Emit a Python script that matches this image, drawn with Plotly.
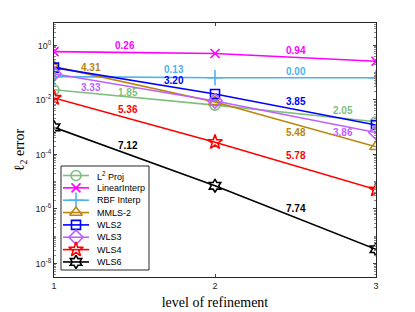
import plotly.graph_objects as go

levels = [1, 2, 3]

series_names = ["L<sup>2</sup> Proj", "LinearInterp", "RBF Interp", "MMLS-2",
                "WLS2", "WLS3", "WLS4", "WLS6"]
l2_proj = [2.34e-2, 6.4e-3, 1.58e-3]
linear_interp = [0.59, 0.50, 0.26]
rbf_interp = [0.071, 0.065, 0.065]
mmls2 = [0.166, 8.4e-3, 1.9e-4]
wls2 = [0.152, 0.0165, 1.2e-3]
wls3 = [0.091, 9.1e-3, 6.3e-4]
wls4 = [0.0117, 2.8e-4, 5.1e-6]
wls6 = [9.8e-4, 7.0e-6, 3.3e-8]

# convergence-rate labels (text) per series, for segments 1-2 and 2-3
rate_labels = {
    "L2": ["1.85", "2.05"],
    "Lin": ["0.26", "0.94"],
    "RBF": ["0.13", "0.00"],
    "MMLS": ["4.31", "5.48"],
    "WLS2": ["3.20", "3.85"],
    "WLS3": ["3.33", "3.86"],
    "WLS4": ["5.36", "5.78"],
    "WLS6": ["7.12", "7.74"],
}

y_tickvals = [1e0, 1e-2, 1e-4, 1e-6, 1e-8]
y_ticktext = ["10<sup>0</sup>", "10<sup>-2</sup>", "10<sup>-4</sup>",
              "10<sup>-6</sup>", "10<sup>-8</sup>"]
x_tickvals = [1, 2, 3]

# styles
styles = [
    ("L2", l2_proj, "#7fbf7f", "circle-open", 10),
    ("Lin", linear_interp, "#ff00ff", "x-thin-open", 9),
    ("RBF", rbf_interp, "#4db3ee", "cross-thin-open", 11),
    ("MMLS", mmls2, "#b8860b", "triangle-up-open", 11),
    ("WLS2", wls2, "#0000ff", "square-open", 9),
    ("WLS3", wls3, "#bf5fff", "diamond-open", 11),
    ("WLS4", wls4, "#ff0000", "star-open", 11),
    ("WLS6", wls6, "#000000", "hexagram-open", 10),
]

# label placement (x in data, y in log10 data units)
label_pos = {
    "L2": [(1.457, -1.74), (2.798, -2.40)],
    "Lin": [(1.444, -0.02), (2.5, -0.20)],
    "RBF": [(1.748, -0.90), (2.5, -0.97)],
    "MMLS": [(1.227, -0.82), (2.5, -3.21)],
    "WLS2": [(1.748, -1.30), (2.5, -2.07)],
    "WLS3": [(1.227, -1.56), (2.798, -3.21)],
    "WLS4": [(1.457, -2.36), (2.5, -4.05)],
    "WLS6": [(1.457, -3.68), (2.5, -5.99)],
}

# legend geometry in page pixels (overlay axis uses pixel coordinates)
leg_box = (61, 166, 149, 270)
leg_row0, leg_dy = 175.5, 12.35
leg_line_x = (63, 89)
leg_text_x = 95

fig = go.Figure()
annotations = []
shapes = []
for (key, vals, color, sym, msize), name in zip(styles, series_names):
    fig.add_trace(go.Scatter(
        x=levels, y=vals, mode="lines+markers", name=name, showlegend=False,
        line=dict(color=color, width=1.6),
        marker=dict(symbol=sym, size=msize,
                    color=color, line=dict(color=color, width=1.6)),
    ))
    for txt, (ax, ay) in zip(rate_labels[key], label_pos[key]):
        annotations.append(dict(
            x=ax, y=ay, xref="x", yref="y", text="<b>%s</b>" % txt,
            showarrow=False, font=dict(family="Liberation Sans", size=10, color=color),
        ))

# manual legend (compact rows as in the reference)
shapes.append(dict(type="rect", xref="x2", yref="y2",
                   x0=leg_box[0], x1=leg_box[2], y0=leg_box[1], y1=leg_box[3],
                   line=dict(color="#262626", width=1), fillcolor="white",
                   layer="below"))
for i, ((key, vals, color, sym, msize), name) in enumerate(zip(styles, series_names)):
    ry = leg_row0 + i * leg_dy
    fig.add_trace(go.Scatter(
        x=[leg_line_x[0], (leg_line_x[0] + leg_line_x[1]) / 2, leg_line_x[1]],
        y=[ry, ry, ry], xaxis="x2", yaxis="y2", mode="lines",
        line=dict(color=color, width=1.6), showlegend=False, hoverinfo="skip",
    ))
    fig.add_trace(go.Scatter(
        x=[(leg_line_x[0] + leg_line_x[1]) / 2], y=[ry], xaxis="x2", yaxis="y2",
        mode="markers", showlegend=False, hoverinfo="skip",
        marker=dict(symbol=sym, size=msize, color=color,
                    line=dict(color=color, width=1.6)),
    ))
    annotations.append(dict(
        x=leg_text_x, y=ry, xref="x2", yref="y2", text=name, showarrow=False,
        xanchor="left", yanchor="middle",
        font=dict(family="Liberation Sans", size=9, color="#000000"),
    ))

axis_col = "#262626"
fig.update_layout(
    width=407, height=304,
    margin=dict(l=46, r=39, t=15, b=35, autoexpand=False),
    paper_bgcolor="white", plot_bgcolor="white",
    font=dict(family="Liberation Sans", size=9, color=axis_col),
    showlegend=False,
    annotations=annotations,
    shapes=shapes,
    xaxis=dict(
        range=[1, 3], tickvals=x_tickvals, ticks="inside", ticklen=3,
        showline=True, linecolor=axis_col, linewidth=1, mirror="ticks",
        showgrid=False, zeroline=False,
        title=dict(text="level of refinement",
                   font=dict(family="Liberation Serif", size=14, color="#000000"),
                   standoff=7),
        tickfont=dict(family="Liberation Sans", size=9, color=axis_col),
    ),
    yaxis=dict(
        type="log", range=[-8.5, 0.82],
        tickvals=y_tickvals, ticktext=y_ticktext,
        ticks="inside", ticklen=3,
        minor=dict(ticks="inside", ticklen=2, dtick="D1", tickcolor="#888888"),
        showline=True, linecolor=axis_col, linewidth=1, mirror="ticks",
        showgrid=False, zeroline=False,
        title=dict(text="ℓ<sub>2</sub> error",
                   font=dict(family="Liberation Serif", size=14, color="#000000"),
                   standoff=7),
        tickfont=dict(family="Liberation Sans", size=9, color=axis_col),
    ),
    xaxis2=dict(overlaying="x", anchor="y2", range=[54, 376], visible=False,
                fixedrange=True),
    yaxis2=dict(overlaying="y", anchor="x2", range=[277, 23], visible=False,
                fixedrange=True),
)

fig.write_html("out.html")
